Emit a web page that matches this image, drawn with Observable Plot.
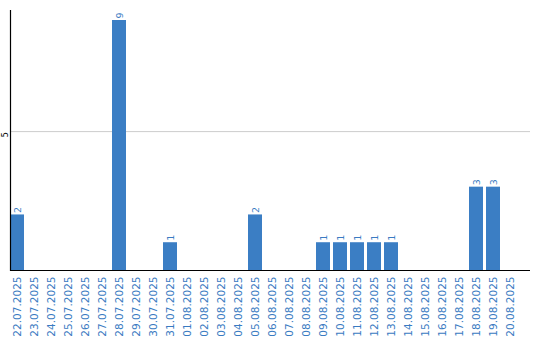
<!DOCTYPE html>
<html>
<head>
<meta charset="utf-8">
<script src="https://cdn.jsdelivr.net/npm/d3@7"></script>
<script src="https://cdn.jsdelivr.net/npm/@observablehq/plot@0.6"></script>
<style>
  html, body { margin: 0; padding: 0; background: #fff; }
  #chart svg { display: block; }
</style>
</head>
<body>
<div id="chart"></div>
<script>
const dates = [
  "22.07.2025","23.07.2025","24.07.2025","25.07.2025","26.07.2025",
  "27.07.2025","28.07.2025","29.07.2025","30.07.2025","31.07.2025",
  "01.08.2025","02.08.2025","03.08.2025","04.08.2025","05.08.2025",
  "06.08.2025","07.08.2025","08.08.2025","09.08.2025","10.08.2025",
  "11.08.2025","12.08.2025","13.08.2025","14.08.2025","15.08.2025",
  "16.08.2025","17.08.2025","18.08.2025","19.08.2025","20.08.2025"
];
const counts = [
  2, 0, 0, 0, 0, 0, 9, 0, 0, 1,
  0, 0, 0, 0, 2, 0, 0, 0, 1, 1,
  1, 1, 1, 0, 0, 0, 0, 3, 3, 0
];
const yTicks = [5];

const data = dates.map((d, i) => ({date: d, value: counts[i]}));
const barColor = "#3b7ec4";
const textColor = "#3a7bc2";

const chart = Plot.plot({
  width: 540,
  height: 340,
  marginLeft: 10,
  marginRight: 10,
  marginTop: 10,
  marginBottom: 70,
  style: {fontFamily: "DejaVu Sans", background: "#fff"},
  x: {domain: dates, paddingInner: 0.176, paddingOuter: 0.382, align: 0},
  y: {domain: [0, 9.36]},
  marks: [
    Plot.ruleY(yTicks, {stroke: "#cccccc", strokeWidth: 1}),
    Plot.barY(data, {x: "date", y: "value", fill: barColor}),
    Plot.text(data.filter(d => d.value > 0), {
      x: "date", y: "value", text: d => String(d.value),
      rotate: -90, textAnchor: "start", dy: -2,
      fill: textColor, fontSize: 9.5
    }),
    Plot.ruleY([0], {stroke: "#000", strokeWidth: 1.2}),
    Plot.frame({anchor: "left", stroke: "#000", strokeWidth: 1.2}),
    Plot.axisX({
      tickSize: 0, tickPadding: 6, tickRotate: -90,
      fontSize: 10.5, color: textColor, label: null
    }),
    Plot.axisY({
      ticks: yTicks, tickSize: 0, tickPadding: 3, tickRotate: -90,
      fontSize: 8, label: null, color: "#000", dy: 3
    })
  ]
});
document.getElementById("chart").appendChild(chart);
</script>
</body>
</html>
